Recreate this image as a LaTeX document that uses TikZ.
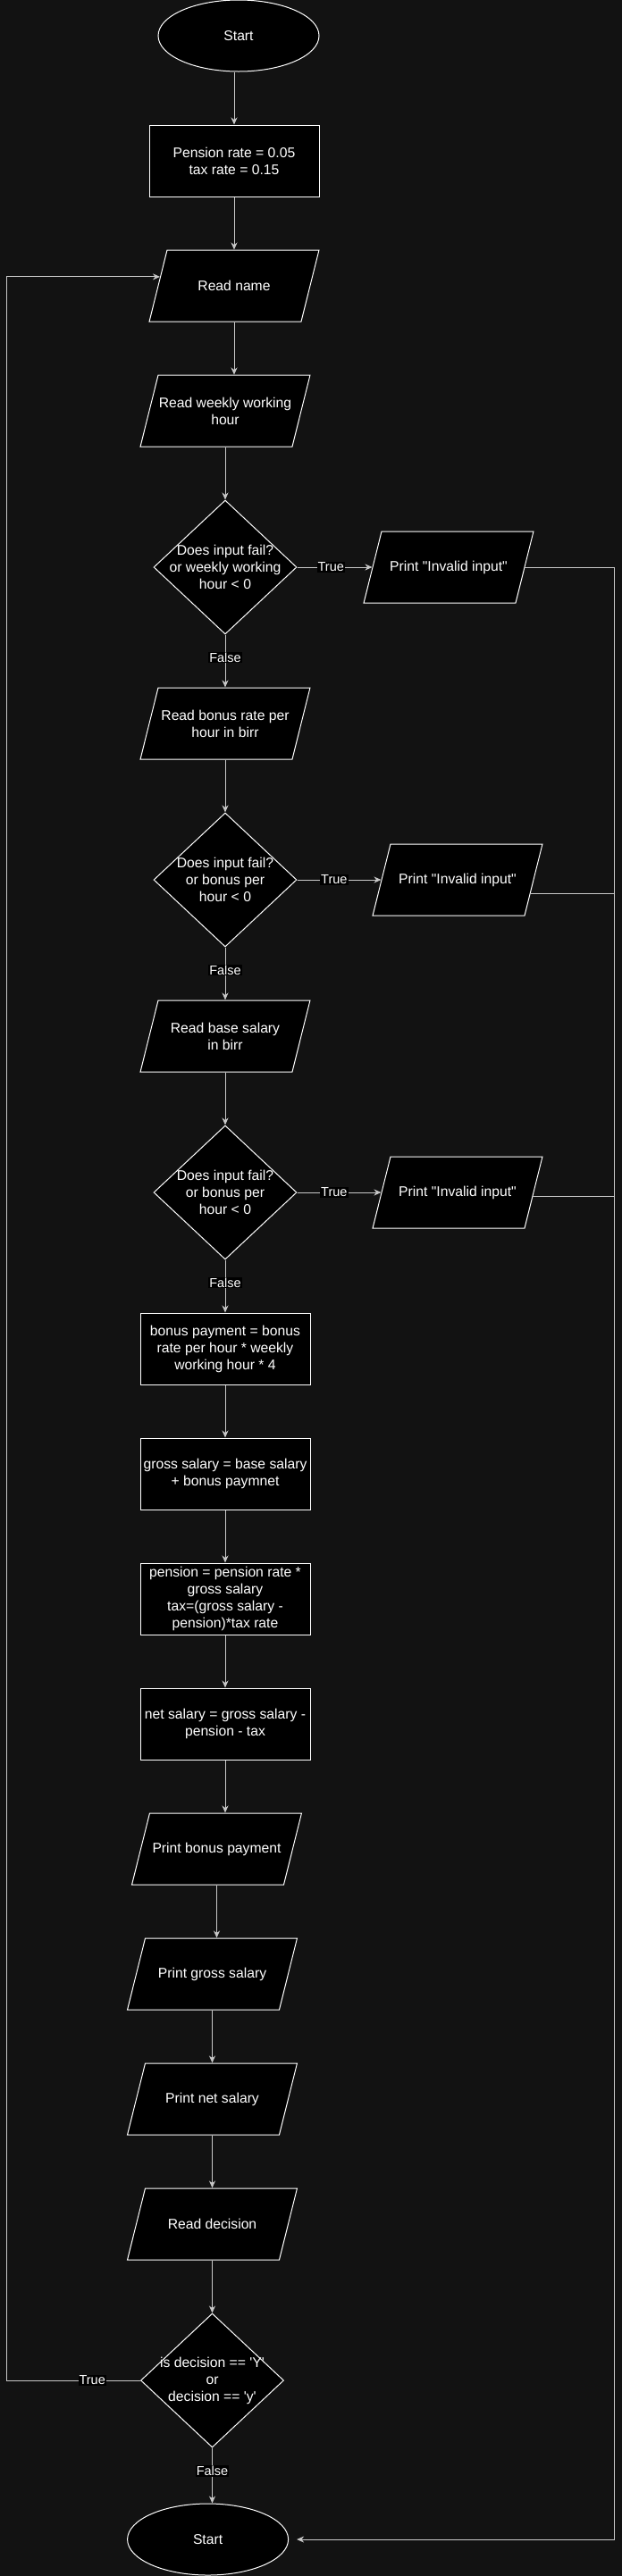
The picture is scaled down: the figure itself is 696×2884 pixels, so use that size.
\documentclass[tikz,border=0pt]{standalone}
\usepackage{fontspec}
\setmainfont{Liberation Sans}[Ligatures=TeXOff]
\usetikzlibrary{shapes.geometric,arrows.meta,calc}
\definecolor{bgdark}{HTML}{121212}
\definecolor{linecol}{HTML}{C8C8C8}
\tikzset{
  base/.style={draw=white, fill=black, text=white, line width=1pt, align=center,
    inner sep=1pt, font=\fontsize{15.7}{19}\selectfont},
  term/.style={base, ellipse, minimum width=180pt, minimum height=80pt},
  proc/.style={base, rectangle, minimum width=190pt, minimum height=80pt},
  io/.style={base, trapezium, trapezium left angle=76, trapezium right angle=104,
    inner xsep=75pt, inner ysep=40pt},
  decision/.style={base, diamond, minimum width=160pt, minimum height=150pt, inner sep=0pt},
  qtext/.style={text=white, align=center, inner sep=0pt, font=\fontsize{15.7}{19}\selectfont},
  flow/.style={draw=linecol, line width=1pt, -{Stealth[length=8pt,width=7pt,inset=2.5pt]}},
  wire/.style={draw=linecol, line width=1pt},
  lbl/.style={fill=black, text=white, inner sep=1pt, font=\fontsize{14.5}{16}\selectfont},
}

\begin{document}
\begin{tikzpicture}[x=1pt, y=-1pt]
    \fill[bgdark] (0,0) rectangle (696,2884);
    \useasboundingbox (0,0) rectangle (696,2884);
    \node[term] (start) at (267,40) {Start};
    \node[proc] (init) at (262,180) {Pension rate = 0.05\\tax rate = 0.15};
    \node[io] (rname) at (262,320) {};
    \node[qtext] (rnameq) at (rname) {Read name};
    \node[io] (rhour) at (252,460) {};
    \node[qtext] (rhourq) at (rhour) {Read weekly working\\hour};
    \node[decision] (chk1) at (252,635) {};
    \node[qtext] (chk1q) at (chk1) {Does input fail?\\or weekly working\\hour < 0};
    \node[io] (err1) at (502,635) {};
    \node[qtext] (err1q) at (err1) {Print "Invalid input"};
    \node[io] (rrate) at (252,810) {};
    \node[qtext] (rrateq) at (rrate) {Read bonus rate per\\hour in birr};
    \node[decision] (chk2) at (252,985) {};
    \node[qtext] (chk2q) at (chk2) {Does input fail?\\or bonus per\\hour < 0};
    \node[io] (err2) at (512,985) {};
    \node[qtext] (err2q) at (err2) {Print "Invalid input"};
    \node[io] (rbase) at (252,1160) {};
    \node[qtext] (rbaseq) at (rbase) {Read base salary\\in birr};
    \node[decision] (chk3) at (252,1335) {};
    \node[qtext] (chk3q) at (chk3) {Does input fail?\\or bonus per\\hour < 0};
    \node[io] (err3) at (512,1335) {};
    \node[qtext] (err3q) at (err3) {Print "Invalid input"};
    \node[proc] (bonus) at (252,1510) {bonus payment = bonus\\rate per hour * weekly\\working hour * 4};
    \node[proc] (gross) at (252,1650) {gross salary = base salary\\+ bonus paymnet};
    \node[proc] (pens) at (252,1790) {pension = pension rate *\\gross salary\\tax=(gross salary -\\pension)*tax rate};
    \node[proc] (net) at (252,1930) {net salary = gross salary -\\pension - tax};
    \node[io] (pbonus) at (242.5,2070) {};
    \node[qtext] (pbonusq) at (pbonus) {Print bonus payment};
    \node[io] (pgross) at (237.5,2210) {};
    \node[qtext] (pgrossq) at (pgross) {Print gross salary};
    \node[io] (pnet) at (237.5,2350) {};
    \node[qtext] (pnetq) at (pnet) {Print net salary};
    \node[io] (rdec) at (237.5,2490) {};
    \node[qtext] (rdecq) at (rdec) {Read decision};
    \node[decision] (again) at (237.5,2665) {};
    \node[qtext] (againq) at (again) {is decision == 'Y'\\or\\decision == 'y'};
    \node[term] (stop) at (232.6,2843) {Start};
    \coordinate (rail) at (687,635);
    \coordinate (loopx) at (7.5,0);
    \coordinate (out2) at ($(err2.top right corner)!0.69!(err2.bottom right corner)$);
    \coordinate (out3) at ($(err3.top right corner)!0.56!(err3.bottom right corner)$);
    \coordinate (back) at ($(rname.top left corner)!0.375!(rname.bottom left corner)$);
    \draw[flow] (start.south -| init.north) -- (init.north);
    \draw[flow] (init.south) -- (init.south |- rname.north);
    \draw[flow] (rname.south) -- (rname.south |- rhour.north);
    \draw[flow] (rhour.south) -- (rhour.south |- chk1.north);
    \draw[flow] (chk1.east) -- node[lbl, pos=0.45] (t1) {True} (err1.west);
    \draw[flow] (chk1.south) -- node[lbl, pos=0.43] (f1) {False} (chk1.south |- rrate.north);
    \draw[flow] (rrate.south) -- (rrate.south |- chk2.north);
    \draw[flow] (chk2.east) -- node[lbl, pos=0.44] (t2) {True} (err2.west);
    \draw[flow] (chk2.south) -- node[lbl, pos=0.43] (f2) {False} (chk2.south |- rbase.north);
    \draw[flow] (rbase.south) -- (rbase.south |- chk3.north);
    \draw[flow] (chk3.east) -- node[lbl, pos=0.44] (t3) {True} (err3.west);
    \draw[flow] (chk3.south) -- node[lbl, pos=0.43] (f3) {False} (chk3.south |- bonus.north);
    \draw[flow] (bonus.south) -- (bonus.south |- gross.north);
    \draw[flow] (gross.south) -- (gross.south |- pens.north);
    \draw[flow] (pens.south) -- (pens.south |- net.north);
    \draw[flow] (net.south) -- (net.south |- pbonus.north);
    \draw[flow] (pbonus.south) -- (pbonus.south |- pgross.north);
    \draw[flow] (pgross.south) -- (pgross.south |- pnet.north);
    \draw[flow] (pnet.south) -- (pnet.south |- rdec.north);
    \draw[flow] (rdec.south) -- (rdec.south |- again.north);
    \draw[flow] (again.south) -- node[lbl, pos=0.42] (f4) {False} (again.south |- stop.north);
    \draw[flow] (again.west) -- node[lbl, pos=0.36] (t4) {True} (again.west -| loopx) |- (back);
    \draw[flow, shorten >=9pt] (err1.east) -- (rail) -- (rail |- stop.east) -- (stop.east);
    \draw[wire] (out2) -- (out2 -| rail);
    \draw[wire] (out3) -- (out3 -| rail);
\end{tikzpicture}
\end{document}
